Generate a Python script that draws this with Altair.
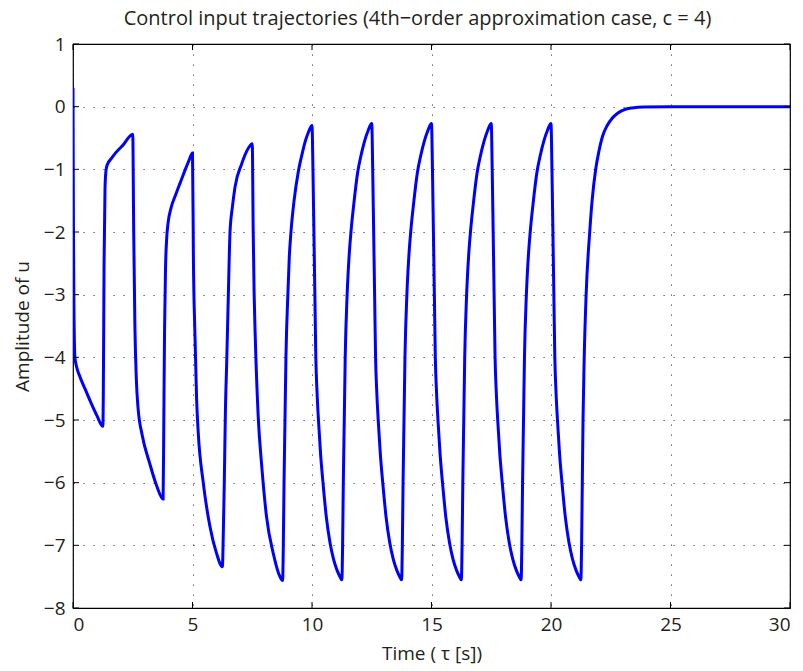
import altair as alt
import pandas as pd

# ---- data ----
t_start = [0, 0.02, 0.04, 0.08, 0.15, 0.3, 0.5, 0.7, 1.0, 1.25,
           1.27, 1.3, 1.34, 1.38, 1.43, 1.6, 1.8, 2.1, 2.5,
           2.54, 2.59, 2.65, 2.72, 2.9, 3.2, 3.5, 3.77,
           3.8, 3.83, 3.87, 3.92, 3.98, 4.1, 4.3, 4.5, 4.7, 4.85, 5.0,
           5.04, 5.1, 5.17, 5.24, 5.45, 5.73, 6.0, 6.25,
           6.29, 6.33, 6.38, 6.43, 6.5, 6.57, 6.67, 6.78, 7.06, 7.34, 7.5,
           7.54, 7.58, 7.62, 7.75, 7.9, 8.1, 8.38, 8.66, 8.77,
           8.8, 8.83, 8.87, 8.91, 8.99, 9.05, 9.12, 9.25, 9.43, 9.57, 9.72, 9.86, 10.0]
u_start = [0.3, -2.0, -3.2, -4.0, -4.15, -4.32, -4.5, -4.68, -4.93, -5.1,
           -4.5, -2.5, -1.3, -1.02, -0.93, -0.83, -0.73, -0.61, -0.44,
           -2.0, -3.5, -4.35, -4.8, -5.25, -5.68, -6.05, -6.26,
           -5.0, -3.6, -2.6, -2.1, -1.85, -1.62, -1.40, -1.2, -1.0, -0.86, -0.74,
           -2.5, -3.6, -4.65, -5.2, -6.0, -6.7, -7.12, -7.34,
           -6.8, -6.0, -4.8, -4.1, -3.0, -2.0, -1.6, -1.28, -0.91, -0.66, -0.59,
           -2.0, -3.0, -3.6, -4.95, -5.75, -6.55, -7.13, -7.5, -7.56,
           -7.0, -6.0, -5.0, -4.0, -3.0, -2.4, -2.0, -1.5, -1.03, -0.78, -0.55, -0.4, -0.3]

t_cycles = [10.04, 10.08, 10.12, 10.16, 10.21, 10.27, 10.36, 10.46, 10.6, 10.75, 10.9, 11.05, 11.17, 11.25,
            11.28, 11.31, 11.35, 11.39, 11.47, 11.55, 11.63, 11.75, 11.91, 12.05, 12.2, 12.35, 12.5,
            12.54, 12.58, 12.62, 12.66, 12.71, 12.77, 12.86, 12.96, 13.1, 13.25, 13.4, 13.55, 13.67, 13.75,
            13.78, 13.81, 13.85, 13.89, 13.97, 14.05, 14.13, 14.25, 14.41, 14.55, 14.7, 14.85, 15.0,
            15.04, 15.08, 15.12, 15.16, 15.21, 15.27, 15.36, 15.46, 15.6, 15.75, 15.9, 16.05, 16.17, 16.25,
            16.28, 16.31, 16.35, 16.39, 16.47, 16.55, 16.63, 16.75, 16.91, 17.05, 17.2, 17.35, 17.5,
            17.54, 17.58, 17.62, 17.66, 17.71, 17.77, 17.86, 17.96, 18.1, 18.25, 18.4, 18.55, 18.67, 18.75,
            18.78, 18.81, 18.85, 18.89, 18.97, 19.05, 19.13, 19.25, 19.41, 19.55, 19.7, 19.85, 20.0,
            20.04, 20.08, 20.12, 20.16, 20.21, 20.27, 20.36, 20.46, 20.6, 20.75, 20.9, 21.05, 21.17, 21.25]
u_cycles = [-1.0, -2.0, -3.0, -4.0, -4.55, -5.0, -5.55, -6.0, -6.55, -6.95, -7.22, -7.4, -7.5, -7.55,
            -7.0, -6.0, -5.0, -4.0, -3.0, -2.4, -2.0, -1.55, -1.05, -0.78, -0.55, -0.38, -0.27,
            -1.0, -2.0, -3.0, -4.0, -4.55, -5.0, -5.55, -6.0, -6.55, -6.95, -7.22, -7.4, -7.5, -7.55,
            -7.0, -6.0, -5.0, -4.0, -3.0, -2.4, -2.0, -1.55, -1.05, -0.78, -0.55, -0.38, -0.27,
            -1.0, -2.0, -3.0, -4.0, -4.55, -5.0, -5.55, -6.0, -6.55, -6.95, -7.22, -7.4, -7.5, -7.55,
            -7.0, -6.0, -5.0, -4.0, -3.0, -2.4, -2.0, -1.55, -1.05, -0.78, -0.55, -0.38, -0.27,
            -1.0, -2.0, -3.0, -4.0, -4.55, -5.0, -5.55, -6.0, -6.55, -6.95, -7.22, -7.4, -7.5, -7.55,
            -7.0, -6.0, -5.0, -4.0, -3.0, -2.4, -2.0, -1.55, -1.05, -0.78, -0.55, -0.38, -0.27,
            -1.0, -2.0, -3.0, -4.0, -4.55, -5.0, -5.55, -6.0, -6.55, -6.95, -7.22, -7.4, -7.5, -7.55]

t_end = [21.28, 21.31, 21.34, 21.39, 21.47, 21.62, 21.72, 21.87, 22.0, 22.15, 22.35, 22.55, 22.8,
         23.05, 23.4, 23.9, 25.0, 30.0]
u_end = [-7.0, -6.0, -5.0, -4.0, -3.0, -2.0, -1.5, -1.0, -0.72, -0.48, -0.3, -0.19, -0.1,
         -0.05, -0.02, -0.005, 0.0, 0.0]

x_ticks = [0, 5, 10, 15, 20, 25, 30]
y_ticks = [1, 0, -1, -2, -3, -4, -5, -6, -7, -8]

W, H = 717, 564
FONT = "Open Sans"
TXT = "#231f20"

t_all = t_start + t_cycles + t_end
u_all = u_start + u_cycles + u_end
df = pd.DataFrame({"t": t_all, "u": u_all, "order": list(range(len(t_all)))})
dfx = pd.DataFrame({"t": x_ticks})
dfy = pd.DataFrame({"u": y_ticks})

xscale = alt.Scale(domain=[0, 30], nice=False, zero=False)
yscale = alt.Scale(domain=[-8, 1], nice=False, zero=False)

line = alt.Chart(df).mark_line(color="#0000FF", strokeWidth=3, clip=True,
                               interpolate="monotone", strokeJoin="miter").encode(
    x=alt.X("t:Q", scale=xscale,
            axis=alt.Axis(values=x_ticks, format="d", title="Time ( τ [s])", grid=True, ticks=False,
                          labelPadding=7, titlePadding=10)),
    y=alt.Y("u:Q", scale=yscale,
            axis=alt.Axis(values=y_ticks, format="d", title="Amplitude of u", grid=True, ticks=False,
                          labelPadding=8, titleX=-51, titleY=H / 2, titleAngle=-90,
                          titleAlign="center", titleBaseline="middle")),
    order="order:Q",
)

tick_len = 6
bottom_ticks = alt.Chart(dfx).mark_rule(color="black", strokeWidth=1).encode(
    x=alt.X("t:Q", scale=xscale), y=alt.value(H), y2=alt.value(H - tick_len))
top_ticks = alt.Chart(dfx).mark_rule(color="black", strokeWidth=1).encode(
    x=alt.X("t:Q", scale=xscale), y=alt.value(0), y2=alt.value(tick_len))
left_ticks = alt.Chart(dfy).mark_rule(color="black", strokeWidth=1).encode(
    y=alt.Y("u:Q", scale=yscale), x=alt.value(0), x2=alt.value(tick_len))
right_ticks = alt.Chart(dfy).mark_rule(color="black", strokeWidth=1).encode(
    y=alt.Y("u:Q", scale=yscale), x=alt.value(W), x2=alt.value(W - tick_len))

chart = alt.layer(line, bottom_ticks, top_ticks, left_ticks, right_ticks).properties(
    width=W, height=H,
    title=alt.TitleParams("Control input trajectories (4th\u2212order approximation case, c = 4)",
                          font=FONT, fontSize=20, fontWeight="normal", color=TXT,
                          anchor="middle", offset=6, dx=-14),
    autosize=alt.AutoSizeParams(type="none"),
    padding={"left": 73, "top": 44, "right": 13, "bottom": 63},
    background="white",
).configure_view(
    stroke="black", strokeWidth=1.2
).configure_axis(
    domain=False,
    labelFont=FONT, labelFontSize=19, labelColor=TXT,
    titleFont=FONT, titleFontSize=19, titleFontWeight="normal", titleColor=TXT,
    gridColor="black", gridDash=[1.2, 8.8], gridWidth=1, gridOpacity=0.75,
)

chart.save("out.html", embed_options={"renderer": "svg", "actions": False})
